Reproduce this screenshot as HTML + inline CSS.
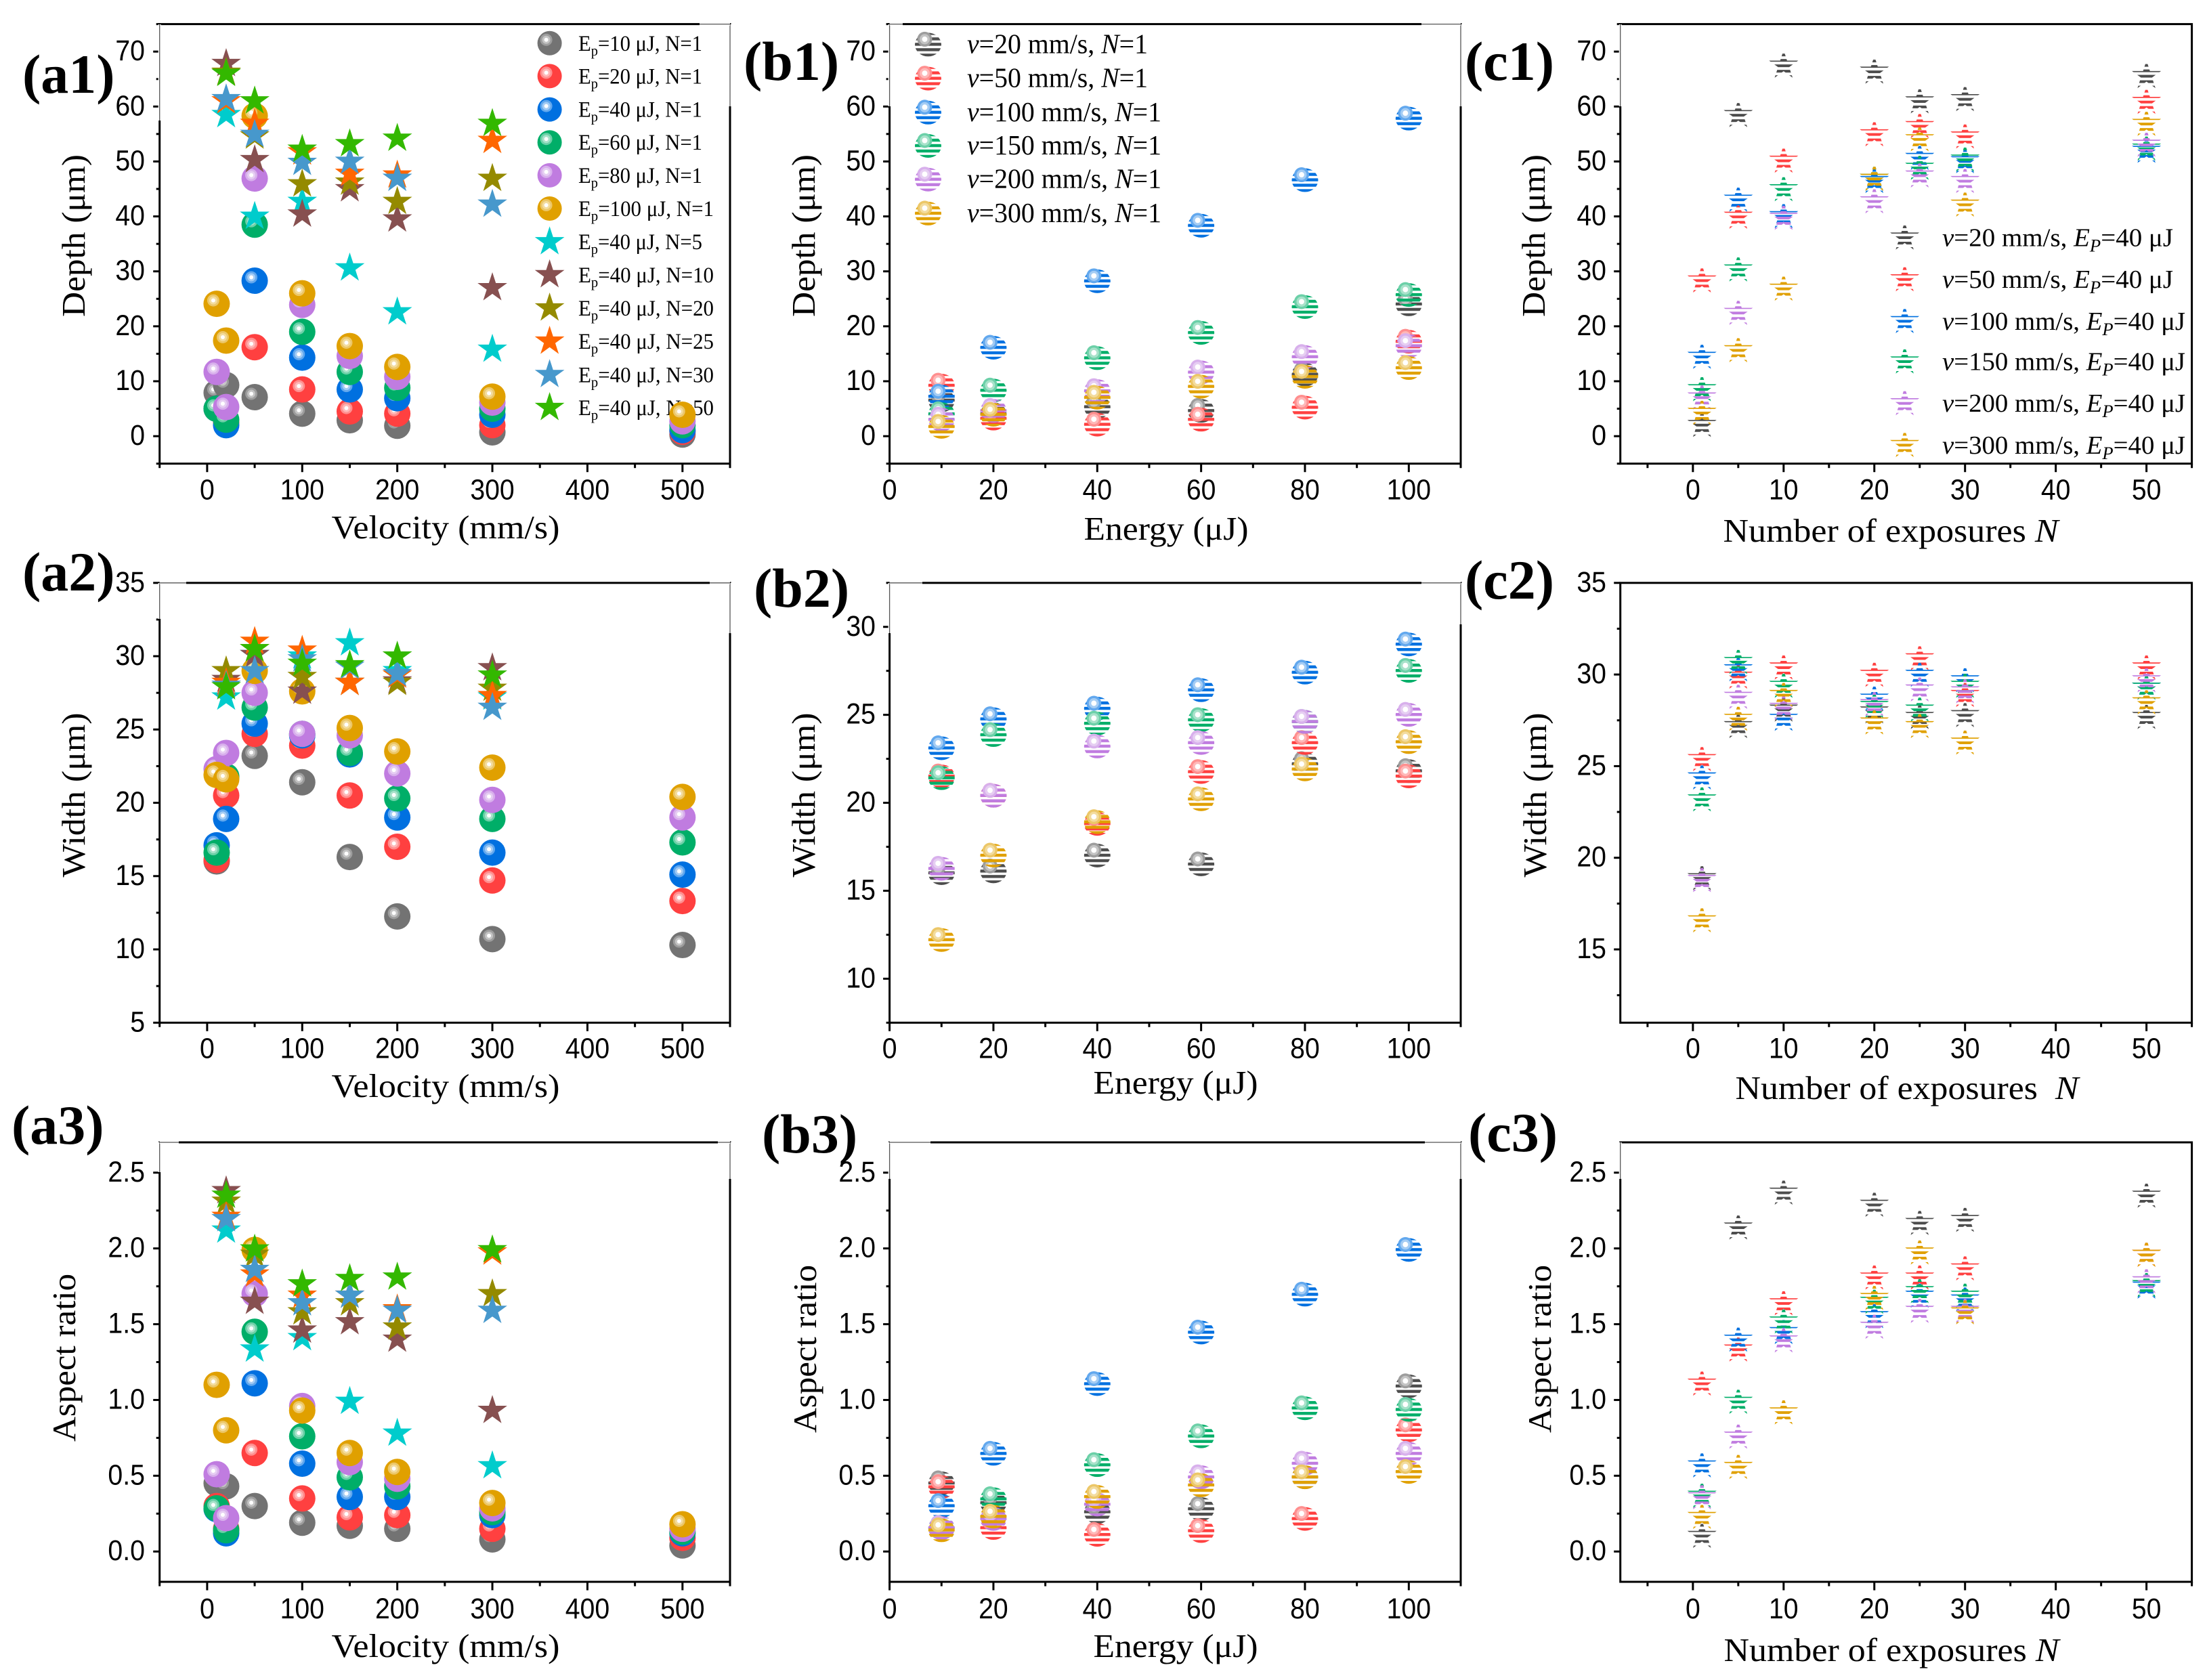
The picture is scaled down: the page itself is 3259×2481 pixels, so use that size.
<!DOCTYPE html>
<html lang="en">
<head>
<meta charset="utf-8">
<title>Depth, width and aspect ratio charts</title>
<style>
html,body{margin:0;padding:0;background:#fff;}
svg{display:block;}
.tick{font-family:"Liberation Sans",sans-serif;font-size:43px;fill:#000;}
.title{font-family:"Liberation Serif",serif;font-size:49px;fill:#000;text-anchor:middle;}
.panel{font-family:"Liberation Serif",serif;font-size:82px;font-weight:bold;fill:#000;}
.la{font-family:"Liberation Serif",serif;font-size:33px;fill:#000;}
.lb{font-family:"Liberation Serif",serif;font-size:41px;fill:#000;}
.lc{font-family:"Liberation Serif",serif;font-size:38px;fill:#000;}
.i{font-style:italic;}
</style>
</head>
<body>
<svg id="figure" xmlns="http://www.w3.org/2000/svg" width="3259" height="2481" viewBox="0 0 3259 2481">
<defs>
<pattern id="pb-gray" patternUnits="userSpaceOnUse" x="0" y="-2.7" width="8" height="8"><rect width="8" height="4.4" fill="#4d4d4d"/></pattern>
<pattern id="pb-red" patternUnits="userSpaceOnUse" x="0" y="-2.7" width="8" height="8"><rect width="8" height="4.4" fill="#ff4040"/></pattern>
<pattern id="pb-blue" patternUnits="userSpaceOnUse" x="0" y="-2.7" width="8" height="8"><rect width="8" height="4.4" fill="#0070e0"/></pattern>
<pattern id="pb-green" patternUnits="userSpaceOnUse" x="0" y="-2.7" width="8" height="8"><rect width="8" height="4.4" fill="#00ae68"/></pattern>
<pattern id="pb-purple" patternUnits="userSpaceOnUse" x="0" y="-2.7" width="8" height="8"><rect width="8" height="4.4" fill="#c07ce0"/></pattern>
<pattern id="pb-orange" patternUnits="userSpaceOnUse" x="0" y="-2.7" width="8" height="8"><rect width="8" height="4.4" fill="#e0a000"/></pattern>
<pattern id="ps-gray" patternUnits="userSpaceOnUse" x="0" y="-1.3" width="8" height="8"><rect width="8" height="4" fill="#4d4d4d"/></pattern>
<pattern id="ps-red" patternUnits="userSpaceOnUse" x="0" y="-1.3" width="8" height="8"><rect width="8" height="4" fill="#ff4040"/></pattern>
<pattern id="ps-blue" patternUnits="userSpaceOnUse" x="0" y="-1.3" width="8" height="8"><rect width="8" height="4" fill="#0070e0"/></pattern>
<pattern id="ps-green" patternUnits="userSpaceOnUse" x="0" y="-1.3" width="8" height="8"><rect width="8" height="4" fill="#00ae68"/></pattern>
<pattern id="ps-purple" patternUnits="userSpaceOnUse" x="0" y="-1.3" width="8" height="8"><rect width="8" height="4" fill="#c07ce0"/></pattern>
<pattern id="ps-orange" patternUnits="userSpaceOnUse" x="0" y="-1.3" width="8" height="8"><rect width="8" height="4" fill="#e0a000"/></pattern>
<clipPath id="star-tip-clip"><rect x="-30" y="-20.5" width="60" height="50"/></clipPath>
</defs>
<rect width="3259" height="2481" fill="#fff"/>

<g>
<text class="panel" x="33" y="137">(a1)</text>
<text class="panel" x="1098" y="118">(b1)</text>
<text class="panel" x="2163" y="118">(c1)</text>
<text class="panel" x="33" y="872">(a2)</text>
<text class="panel" x="1113" y="896">(b2)</text>
<text class="panel" x="2163" y="884">(c2)</text>
<text class="panel" x="17" y="1689">(a3)</text>
<text class="panel" x="1125" y="1702">(b3)</text>
<text class="panel" x="2168" y="1700">(c3)</text>
</g>

<g>
<text class="title" transform="translate(125,348) rotate(-90)" textLength="240" lengthAdjust="spacingAndGlyphs">Depth (μm)</text>
<text class="title" x="658" y="795" textLength="337" lengthAdjust="spacingAndGlyphs">Velocity (mm/s)</text>
<text class="title" transform="translate(125,1174) rotate(-90)" textLength="243" lengthAdjust="spacingAndGlyphs">Width (μm)</text>
<text class="title" x="658" y="1620" textLength="337" lengthAdjust="spacingAndGlyphs">Velocity (mm/s)</text>
<text class="title" transform="translate(111,2005) rotate(-90)" textLength="248" lengthAdjust="spacingAndGlyphs">Aspect ratio</text>
<text class="title" x="658" y="2447" textLength="337" lengthAdjust="spacingAndGlyphs">Velocity (mm/s)</text>
<text class="title" transform="translate(1203,348) rotate(-90)" textLength="240" lengthAdjust="spacingAndGlyphs">Depth (μm)</text>
<text class="title" x="1722" y="797" textLength="243" lengthAdjust="spacingAndGlyphs">Energy (μJ)</text>
<text class="title" transform="translate(1203,1174) rotate(-90)" textLength="243" lengthAdjust="spacingAndGlyphs">Width (μm)</text>
<text class="title" x="1736" y="1615" textLength="243" lengthAdjust="spacingAndGlyphs">Energy (μJ)</text>
<text class="title" transform="translate(1205,1992) rotate(-90)" textLength="248" lengthAdjust="spacingAndGlyphs">Aspect ratio</text>
<text class="title" x="1736" y="2447" textLength="243" lengthAdjust="spacingAndGlyphs">Energy (μJ)</text>
<text class="title" transform="translate(2281,348) rotate(-90)" textLength="240" lengthAdjust="spacingAndGlyphs">Depth (μm)</text>
<text class="title" x="2792" y="800" textLength="495" lengthAdjust="spacingAndGlyphs">Number of exposures <tspan class="i">N</tspan></text>
<text class="title" transform="translate(2283,1174) rotate(-90)" textLength="243" lengthAdjust="spacingAndGlyphs">Width (μm)</text>
<text class="title" x="2816" y="1623" textLength="507" lengthAdjust="spacingAndGlyphs">Number of exposures&#160;&#160;<tspan class="i">N</tspan></text>
<text class="title" transform="translate(2290,1992) rotate(-90)" textLength="248" lengthAdjust="spacingAndGlyphs">Aspect ratio</text>
<text class="title" x="2793" y="2453" textLength="495" lengthAdjust="spacingAndGlyphs">Number of exposures <tspan class="i">N</tspan></text>
</g>

<g id="legend-a1">
<text class="la" x="854" y="75" textLength="183" lengthAdjust="spacingAndGlyphs">E<tspan dy="7" font-size="22">p</tspan><tspan dy="-7">=10 μJ, N=1</tspan></text>
<text class="la" x="854" y="123.4" textLength="183" lengthAdjust="spacingAndGlyphs">E<tspan dy="7" font-size="22">p</tspan><tspan dy="-7">=20 μJ, N=1</tspan></text>
<text class="la" x="854" y="172.6" textLength="183" lengthAdjust="spacingAndGlyphs">E<tspan dy="7" font-size="22">p</tspan><tspan dy="-7">=40 μJ, N=1</tspan></text>
<text class="la" x="854" y="221.2" textLength="183" lengthAdjust="spacingAndGlyphs">E<tspan dy="7" font-size="22">p</tspan><tspan dy="-7">=60 μJ, N=1</tspan></text>
<text class="la" x="854" y="269.9" textLength="183" lengthAdjust="spacingAndGlyphs">E<tspan dy="7" font-size="22">p</tspan><tspan dy="-7">=80 μJ, N=1</tspan></text>
<text class="la" x="854" y="319" textLength="200" lengthAdjust="spacingAndGlyphs">E<tspan dy="7" font-size="22">p</tspan><tspan dy="-7">=100 μJ, N=1</tspan></text>
<text class="la" x="854" y="368.2" textLength="183" lengthAdjust="spacingAndGlyphs">E<tspan dy="7" font-size="22">p</tspan><tspan dy="-7">=40 μJ, N=5</tspan></text>
<text class="la" x="854" y="416.9" textLength="200" lengthAdjust="spacingAndGlyphs">E<tspan dy="7" font-size="22">p</tspan><tspan dy="-7">=40 μJ, N=10</tspan></text>
<text class="la" x="854" y="466" textLength="200" lengthAdjust="spacingAndGlyphs">E<tspan dy="7" font-size="22">p</tspan><tspan dy="-7">=40 μJ, N=20</tspan></text>
<text class="la" x="854" y="515" textLength="200" lengthAdjust="spacingAndGlyphs">E<tspan dy="7" font-size="22">p</tspan><tspan dy="-7">=40 μJ, N=25</tspan></text>
<text class="la" x="854" y="564.3" textLength="200" lengthAdjust="spacingAndGlyphs">E<tspan dy="7" font-size="22">p</tspan><tspan dy="-7">=40 μJ, N=30</tspan></text>
<text class="la" x="854" y="613" textLength="200" lengthAdjust="spacingAndGlyphs">E<tspan dy="7" font-size="22">p</tspan><tspan dy="-7">=40 μJ, N=50</tspan></text>
</g>

<g id="legend-b1">
<text class="lb" x="1428" y="78.4" textLength="267" lengthAdjust="spacingAndGlyphs"><tspan class="i">v</tspan>=20 mm/s, <tspan class="i">N</tspan>=1</text>
<text class="lb" x="1428" y="128.6" textLength="267" lengthAdjust="spacingAndGlyphs"><tspan class="i">v</tspan>=50 mm/s, <tspan class="i">N</tspan>=1</text>
<text class="lb" x="1428" y="178.8" textLength="287" lengthAdjust="spacingAndGlyphs"><tspan class="i">v</tspan>=100 mm/s, <tspan class="i">N</tspan>=1</text>
<text class="lb" x="1428" y="228" textLength="287" lengthAdjust="spacingAndGlyphs"><tspan class="i">v</tspan>=150 mm/s, <tspan class="i">N</tspan>=1</text>
<text class="lb" x="1428" y="277.7" textLength="287" lengthAdjust="spacingAndGlyphs"><tspan class="i">v</tspan>=200 mm/s, <tspan class="i">N</tspan>=1</text>
<text class="lb" x="1428" y="327.9" textLength="287" lengthAdjust="spacingAndGlyphs"><tspan class="i">v</tspan>=300 mm/s, <tspan class="i">N</tspan>=1</text>
</g>

<g id="legend-c1">
<text class="lc" x="2868" y="363.5" textLength="341" lengthAdjust="spacingAndGlyphs"><tspan class="i">v</tspan>=20 mm/s, <tspan class="i">E</tspan><tspan class="i" dy="8" font-size="26">P</tspan><tspan dy="-8">=40 μJ</tspan></text>
<text class="lc" x="2868" y="425.2" textLength="341" lengthAdjust="spacingAndGlyphs"><tspan class="i">v</tspan>=50 mm/s, <tspan class="i">E</tspan><tspan class="i" dy="8" font-size="26">P</tspan><tspan dy="-8">=40 μJ</tspan></text>
<text class="lc" x="2868" y="486.9" textLength="359" lengthAdjust="spacingAndGlyphs"><tspan class="i">v</tspan>=100 mm/s, <tspan class="i">E</tspan><tspan class="i" dy="8" font-size="26">P</tspan><tspan dy="-8">=40 μJ</tspan></text>
<text class="lc" x="2868" y="546.5" textLength="359" lengthAdjust="spacingAndGlyphs"><tspan class="i">v</tspan>=150 mm/s, <tspan class="i">E</tspan><tspan class="i" dy="8" font-size="26">P</tspan><tspan dy="-8">=40 μJ</tspan></text>
<text class="lc" x="2868" y="608.2" textLength="359" lengthAdjust="spacingAndGlyphs"><tspan class="i">v</tspan>=200 mm/s, <tspan class="i">E</tspan><tspan class="i" dy="8" font-size="26">P</tspan><tspan dy="-8">=40 μJ</tspan></text>
<text class="lc" x="2868" y="669.9" textLength="359" lengthAdjust="spacingAndGlyphs"><tspan class="i">v</tspan>=300 mm/s, <tspan class="i">E</tspan><tspan class="i" dy="8" font-size="26">P</tspan><tspan dy="-8">=40 μJ</tspan></text>
</g>
<g id="charts"></g>
<g id="frame-edges"></g>
</svg>

<script>
// ---------- categories ----------
const velocitySphere = [10, 20, 50, 100, 150, 200, 300, 500];
const velocityStar = [20, 50, 100, 150, 200, 300];
const energyLevels = [10, 20, 40, 60, 80, 100];
const exposureCounts = [1, 5, 10, 20, 25, 30, 50];

// ---------- tick values ----------
const velocityMajor = [0, 100, 200, 300, 400, 500];
const velocityMinor = [-50, 50, 150, 250, 350, 450, 550];
const energyMajor = [0, 20, 40, 60, 80, 100];
const energyMinor = [10, 30, 50, 70, 90, 110];
const exposureMajor = [0, 10, 20, 30, 40, 50];
const exposureMinor = [-5, 5, 15, 25, 35, 45, 55];
const depthMajor = [0, 10, 20, 30, 40, 50, 60, 70];
const depthMinor = [-5, 5, 15, 25, 35, 45, 55, 65, 75];
const widthMajorA = [5, 10, 15, 20, 25, 30, 35];
const widthMinorA = [7.5, 12.5, 17.5, 22.5, 27.5, 32.5];
const widthMajorB = [10, 15, 20, 25, 30];
const widthMinorB = [7.5, 12.5, 17.5, 22.5, 27.5, 32.5];
const widthMajorC = [15, 20, 25, 30, 35];
const widthMinorC = [12.5, 17.5, 22.5, 27.5, 32.5];
const ratioMajor = [0, 0.5, 1, 1.5, 2, 2.5];
const ratioMinor = [0.25, 0.75, 1.25, 1.75, 2.25];
const ratioLabels = ['0.0', '0.5', '1.0', '1.5', '2.0', '2.5'];

// ---------- a1: depth vs velocity ----------
const a1Ep10 = [7.9, 9.3, 7.1, 4.1, 2.9, 1.9, 0.7, 0.3];
const a1Ep20 = [5, 2.5, 16.2, 8.5, 4.5, 4.1, 2, 0.8];
const a1Ep40 = [5, 2, 28.3, 14.3, 8.5, 6.9, 3.9, 1.1];
const a1Ep60 = [5, 3, 38.5, 19, 11.7, 8.8, 5, 2];
const a1Ep80 = [11.7, 5.3, 46.9, 23.9, 14.6, 10.8, 6.1, 2.7];
const a1Ep100 = [24.1, 17.4, 58.3, 26, 16.4, 12.6, 7.2, 3.9];
const a1N5 = [58.5, 40, 42.7, 30.6, 22.6, 15.8];
const a1N10 = [67.8, 50.3, 40.4, 45, 39.5, 27];
const a1N20 = [66.2, 54.6, 45.9, 46.2, 42.7, 46.9];
const a1N25 = [61, 56.9, 51.7, 47.8, 47.5, 53.8];
const a1N30 = [61.4, 54.9, 49.8, 50, 46.9, 42.2];
const a1N50 = [66, 61, 52.2, 53.2, 54.2, 56.9];

// ---------- a2: width vs velocity ----------
const a2Ep10 = [16, 21.7, 23.2, 21.4, 16.3, 12.25, 10.7, 10.3];
const a2Ep20 = [16.1, 20.5, 24.7, 23.9, 20.5, 17, 14.7, 13.3];
const a2Ep40 = [17.1, 18.9, 25.4, 24.6, 23.3, 19, 16.6, 15.1];
const a2Ep60 = [16.6, 21.8, 26.5, 24.7, 23.4, 20.3, 18.9, 17.3];
const a2Ep80 = [22.3, 23.4, 27.5, 24.7, 24.6, 22, 20.2, 19];
const a2Ep100 = [21.9, 21.6, 29, 27.6, 25.1, 23.5, 22.4, 20.4];
const a2N5 = [27.2, 30.1, 30, 30.9, 29, 27.2];
const a2N10 = [28.4, 30.1, 27.6, 28.2, 28.3, 29.2];
const a2N20 = [29, 30.5, 28.6, 28.2, 28.2, 27.8];
const a2N25 = [28.2, 31, 30.4, 28.2, 28.7, 27.3];
const a2N30 = [28, 29, 29.8, 29.3, 28.8, 26.5];
const a2N50 = [27.9, 30.5, 29.5, 29.4, 30, 28.7];

// ---------- a3: aspect ratio vs velocity ----------
const a3Ep10 = [0.45, 0.43, 0.3, 0.19, 0.17, 0.15, 0.08, 0.04];
const a3Ep20 = [0.3, 0.15, 0.65, 0.35, 0.225, 0.24, 0.15, 0.09];
const a3Ep40 = [0.28, 0.12, 1.11, 0.58, 0.36, 0.36, 0.24, 0.12];
const a3Ep60 = [0.285, 0.14, 1.45, 0.76, 0.49, 0.43, 0.26, 0.13];
const a3Ep80 = [0.51, 0.22, 1.7, 0.96, 0.59, 0.48, 0.285, 0.15];
const a3Ep100 = [1.1, 0.8, 1.99, 0.93, 0.65, 0.525, 0.32, 0.18];
const a3N5 = [2.12, 1.335, 1.41, 0.99, 0.78, 0.565];
const a3N10 = [2.38, 1.65, 1.46, 1.515, 1.4, 0.93];
const a3N20 = [2.31, 1.96, 1.58, 1.64, 1.48, 1.7];
const a3N25 = [2.21, 1.83, 1.69, 1.69, 1.6, 1.975];
const a3N30 = [2.195, 1.86, 1.64, 1.69, 1.59, 1.59];
const a3N50 = [2.35, 1.995, 1.765, 1.8, 1.81, 1.99];

// ---------- b1: depth vs energy ----------
const b1V20 = [6.5, 4, 5.3, 4.6, 11.2, 24];
const b1V50 = [9.2, 3.2, 2.1, 3, 5.2, 17.2];
const b1V100 = [7.2, 16.1, 28.2, 38.3, 46.6, 57.8];
const b1V150 = [4, 8.3, 14.2, 18.8, 23.5, 25.7];
const b1V200 = [3, 4.6, 8.2, 11.6, 14.4, 16.4];
const b1V300 = [1.7, 3.9, 7, 9, 10.8, 12.4];

// ---------- b2: width vs energy ----------
const b2V20 = [16, 16.1, 17, 16.5, 22.2, 21.8];
const b2V50 = [21.5, 20.4, 18.8, 21.75, 23.4, 21.5];
const b2V100 = [23.1, 24.75, 25.35, 26.4, 27.4, 29];
const b2V150 = [21.4, 23.85, 24.5, 24.7, 24.6, 27.5];
const b2V200 = [16.25, 20.4, 23.2, 23.4, 24.6, 25];
const b2V300 = [12.2, 17, 18.9, 20.2, 21.9, 23.45];

// ---------- b3: aspect ratio vs energy ----------
const b3V20 = [0.45, 0.32, 0.26, 0.28, 0.49, 1.09];
const b3V50 = [0.425, 0.155, 0.11, 0.135, 0.215, 0.8];
const b3V100 = [0.3, 0.645, 1.105, 1.445, 1.695, 1.99];
const b3V150 = [0.155, 0.345, 0.57, 0.76, 0.945, 0.935];
const b3V200 = [0.155, 0.215, 0.31, 0.49, 0.58, 0.645];
const b3V300 = [0.14, 0.23, 0.36, 0.437, 0.49, 0.525];

// ---------- c1: depth vs exposures ----------
const c1V20 = [2.1, 58.5, 67.5, 66.4, 61, 61.4, 65.6];
const c1V50 = [28.4, 40, 50.2, 55, 56.5, 54.6, 60.9];
const c1V100 = [14.5, 43.1, 40.1, 46.5, 50.7, 50.1, 52];
const c1V150 = [8.6, 30.4, 45, 46.9, 48.9, 50.4, 52.4];
const c1V200 = [7.1, 22.5, 39.8, 42.8, 47.5, 46.5, 53.1];
const c1V300 = [4.3, 15.7, 26.9, 46.9, 54.1, 42.2, 56.9];

// ---------- c2: width vs exposures ----------
const c2V20 = [18.9, 27.2, 28.1, 28, 27.7, 27.8, 27.7];
const c2V50 = [25.4, 29.9, 30.4, 30, 30.9, 28.9, 30.4];
const c2V100 = [24.4, 30.3, 27.6, 28.7, 30, 29.7, 29.3];
const c2V150 = [23.2, 30.7, 29.4, 28.3, 28.1, 29.4, 29.3];
const c2V200 = [18.8, 28.8, 28.2, 28.4, 29.2, 29.1, 29.7];
const c2V300 = [16.6, 27.6, 28.9, 27.4, 27.2, 26.3, 28.5];

// ---------- c3: aspect ratio vs exposures ----------
const c3V20 = [0.105, 2.14, 2.37, 2.29, 2.17, 2.19, 2.35];
const c3V50 = [1.11, 1.335, 1.64, 1.81, 1.81, 1.87, 1.96];
const c3V100 = [0.57, 1.4, 1.45, 1.555, 1.69, 1.665, 1.75];
const c3V150 = [0.37, 0.99, 1.52, 1.65, 1.72, 1.69, 1.76];
const c3V200 = [0.36, 0.76, 1.395, 1.485, 1.59, 1.59, 1.785];
const c3V300 = [0.23, 0.56, 0.92, 1.675, 1.975, 1.58, 1.96];

// ---------- series styling ----------
const sphereColors = ['#737373', '#ff4040', '#0070e0', '#00ae68', '#c07ce0', '#e0a000'];
const starColors = ['#00cccc', '#875050', '#948a00', '#ff6600', '#4798cc', '#33b800'];
const patternKeys = ['gray', 'red', 'blue', 'green', 'purple', 'orange'];
const ringColors = ['#9d9d9d', '#ff8f8f', '#62a8ee', '#6cd0a8', '#d8b0ec', '#ecc768'];
const midColors = ['#c4c4c4', '#ffb8b8', '#a4ccf4', '#a8e2ca', '#e6cef2', '#f3dc9e'];

const NS = 'http://www.w3.org/2000/svg';
const charts = document.getElementById('charts');

function mk(tag, attrs, parent) {
  const el = document.createElementNS(NS, tag);
  for (const k in attrs) el.setAttribute(k, attrs[k]);
  parent.appendChild(el);
  return el;
}
function linear(d0, d1, r0, r1) {
  return function (v) { return r0 + (v - d0) * (r1 - r0) / (d1 - d0); };
}
function starPath(r) {
  const pts = [];
  for (let i = 0; i < 10; i++) {
    const rad = i % 2 === 0 ? r : r * 0.382;
    const a = -Math.PI / 2 + i * Math.PI / 5;
    pts.push((rad * Math.cos(a)).toFixed(2) + ',' + (rad * Math.sin(a)).toFixed(2));
  }
  return pts.join(' ');
}
function tickWidth(label) {
  let w = 0;
  for (const ch of label) w += ch === '.' ? 11 : 21.8;
  return w;
}
const STAR22 = starPath(22.6);
const STARFILL = starPath(23);

function drawSphere(parent, x, y, idx, r, name) {
  const g = mk('g', { transform: 'translate(' + x + ',' + y + ')' }, parent);
  
  
  mk('circle', { r: r, fill: sphereColors[idx] }, g);
  mk('circle', { cx: -5, cy: -5, r: 9, fill: ringColors[idx] }, g);
  mk('circle', { cx: -5, cy: -5, r: 6, fill: midColors[idx] }, g);
  mk('circle', { cx: -5, cy: -5, r: 3, fill: '#fff' }, g);
}
function drawSolidStar(parent, x, y, idx, name) {
  const el = mk('polygon', { transform: 'translate(' + x + ',' + y + ')', points: STARFILL, fill: starColors[idx] }, parent);
  
  
}
function drawStripedBall(parent, x, y, idx, name) {
  const g = mk('g', { transform: 'translate(' + x + ',' + y + ')' }, parent);
  
  
  mk('ellipse', { rx: 19.5, ry: 17.5, fill: 'url(#pb-' + patternKeys[idx] + ')' }, g);
  mk('circle', { cx: -5, cy: -8, r: 11, fill: ringColors[idx] }, g);
  mk('circle', { cx: -5, cy: -8, r: 7.5, fill: midColors[idx] }, g);
  mk('circle', { cx: -5, cy: -8, r: 4, fill: '#fff' }, g);
}
function drawStripedStar(parent, x, y, idx, name) {
  const el = mk('polygon', { transform: 'translate(' + x + ',' + y + ')', points: STAR22, fill: 'url(#ps-' + patternKeys[idx] + ')', 'clip-path': 'url(#star-tip-clip)' }, parent);
  
  
}

const sphereNames = ['ep10', 'ep20', 'ep40', 'ep60', 'ep80', 'ep100'];
const starNames = ['n5', 'n10', 'n20', 'n25', 'n30', 'n50'];
const speedNames = ['v20', 'v50', 'v100', 'v150', 'v200', 'v300'];

const panels = [
  { id: 'a1', kind: 'a', l: 235.7, r: 1078, t: 35.6, b: 684.7, xd: [-50, 550], yd: [-5, 75], xMaj: velocityMajor, xMin: velocityMinor, yMaj: depthMajor, yMin: depthMinor, yFmt: null, xLab: 737.4, yLab: 214,
    spheres: [a1Ep10, a1Ep20, a1Ep40, a1Ep60, a1Ep80, a1Ep100], stars: [a1N5, a1N10, a1N20, a1N25, a1N30, a1N50] },
  { id: 'a2', kind: 'a', l: 235.7, r: 1078, t: 860.8, b: 1510.3, xd: [-50, 550], yd: [5, 35], xMaj: velocityMajor, xMin: velocityMinor, yMaj: widthMajorA, yMin: widthMinorA, yFmt: null, xLab: 1562.6, yLab: 214,
    spheres: [a2Ep10, a2Ep20, a2Ep40, a2Ep60, a2Ep80, a2Ep100], stars: [a2N5, a2N10, a2N20, a2N25, a2N30, a2N50] },
  { id: 'a3', kind: 'a', l: 235.7, r: 1078, t: 1687, b: 2336, xd: [-50, 550], yd: [-0.2, 2.7], xMaj: velocityMajor, xMin: velocityMinor, yMaj: ratioMajor, yMin: ratioMinor, yFmt: ratioLabels, xLab: 2390, yLab: 214,
    spheres: [a3Ep10, a3Ep20, a3Ep40, a3Ep60, a3Ep80, a3Ep100], stars: [a3N5, a3N10, a3N20, a3N25, a3N30, a3N50] },
  { id: 'b1', kind: 'b', l: 1313.6, r: 2157, t: 35.6, b: 684.7, xd: [0, 110], yd: [-5, 75], xMaj: energyMajor, xMin: energyMinor, yMaj: depthMajor, yMin: depthMinor, yFmt: null, xLab: 737.4, yLab: 1293,
    series: [b1V20, b1V50, b1V100, b1V150, b1V200, b1V300] },
  { id: 'b2', kind: 'b', l: 1313.6, r: 2157, t: 860.8, b: 1510.3, xd: [0, 110], yd: [7.5, 32.5], xMaj: energyMajor, xMin: energyMinor, yMaj: widthMajorB, yMin: widthMinorB, yFmt: null, xLab: 1562.6, yLab: 1293,
    series: [b2V20, b2V50, b2V100, b2V150, b2V200, b2V300] },
  { id: 'b3', kind: 'b', l: 1313.6, r: 2157, t: 1687, b: 2336, xd: [0, 110], yd: [-0.2, 2.7], xMaj: energyMajor, xMin: energyMinor, yMaj: ratioMajor, yMin: ratioMinor, yFmt: ratioLabels, xLab: 2390, yLab: 1293,
    series: [b3V20, b3V50, b3V100, b3V150, b3V200, b3V300] },
  { id: 'c1', kind: 'c', l: 2392.7, r: 3236.6, t: 35.6, b: 684.7, xd: [-8, 55], yd: [-5, 75], xMaj: exposureMajor, xMin: exposureMinor, yMaj: depthMajor, yMin: depthMinor, yFmt: null, xLab: 737.4, yLab: 2372,
    series: [c1V20, c1V50, c1V100, c1V150, c1V200, c1V300] },
  { id: 'c2', kind: 'c', l: 2392.7, r: 3236.6, t: 860.8, b: 1510.3, xd: [-8, 55], yd: [11, 35], xMaj: exposureMajor, xMin: exposureMinor, yMaj: widthMajorC, yMin: widthMinorC, yFmt: null, xLab: 1562.6, yLab: 2372,
    series: [c2V20, c2V50, c2V100, c2V150, c2V200, c2V300] },
  { id: 'c3', kind: 'c', l: 2392.7, r: 3236.6, t: 1687, b: 2336, xd: [-8, 55], yd: [-0.2, 2.7], xMaj: exposureMajor, xMin: exposureMinor, yMaj: ratioMajor, yMin: ratioMinor, yFmt: ratioLabels, xLab: 2390, yLab: 2372,
    series: [c3V20, c3V50, c3V100, c3V150, c3V200, c3V300] }
];

panels.forEach(function (p) {
  const X = linear(p.xd[0], p.xd[1], p.l, p.r);
  const Y = linear(p.yd[0], p.yd[1], p.b, p.t);

  const axes = mk('g', {}, charts);
  
  

  const frame = mk('rect', { x: p.l, y: p.t, width: p.r - p.l, height: p.b - p.t, fill: 'none', stroke: '#000', 'stroke-width': 3 }, axes);
  
  

  p.xMaj.forEach(function (v) {
    const t = mk('line', { x1: X(v), x2: X(v), y1: p.b, y2: p.b + 12.5, stroke: '#000', 'stroke-width': 3 }, axes);
    
    
    const label = String(v);
    const lab = mk('text', { x: X(v), y: p.xLab, 'text-anchor': 'middle', class: 'tick', textLength: tickWidth(label), lengthAdjust: 'spacingAndGlyphs' }, axes);
    lab.textContent = label;
    
    
  });
  p.xMin.forEach(function (v) {
    const t = mk('line', { x1: X(v), x2: X(v), y1: p.b, y2: p.b + 6.5, stroke: '#000', 'stroke-width': 3 }, axes);
    
    
  });
  p.yMaj.forEach(function (v, i) {
    const t = mk('line', { x1: p.l - 9.5, x2: p.l, y1: Y(v), y2: Y(v), stroke: '#000', 'stroke-width': 3 }, axes);
    
    
    const label = p.yFmt ? p.yFmt[i] : String(v);
    const lab = mk('text', { x: p.yLab, y: Y(v) + 13, 'text-anchor': 'end', class: 'tick', textLength: tickWidth(label), lengthAdjust: 'spacingAndGlyphs' }, axes);
    lab.textContent = label;
    
    
  });
  p.yMin.forEach(function (v) {
    const t = mk('line', { x1: p.l - 5, x2: p.l, y1: Y(v), y2: Y(v), stroke: '#000', 'stroke-width': 3 }, axes);
    
    
  });

  const marks = mk('g', {}, charts);
  
  

  if (p.kind === 'a') {
    p.spheres.forEach(function (vals, s) {
      vals.forEach(function (v, i) {
        drawSphere(marks, X(velocitySphere[i]), Y(v), s, 19.5, p.id + '-point-' + sphereNames[s]);
      });
    });
    p.stars.forEach(function (vals, s) {
      vals.forEach(function (v, i) {
        drawSolidStar(marks, X(velocityStar[i]), Y(v), s, p.id + '-point-' + starNames[s]);
      });
    });
  } else if (p.kind === 'b') {
    p.series.forEach(function (vals, s) {
      vals.forEach(function (v, i) {
        drawStripedBall(marks, X(energyLevels[i]), Y(v), s, p.id + '-point-' + speedNames[s]);
      });
    });
  } else {
    p.series.forEach(function (vals, s) {
      vals.forEach(function (v, i) {
        drawStripedStar(marks, X(exposureCounts[i]), Y(v), s, p.id + '-point-' + speedNames[s]);
      });
    });
  }
});

// ---------- legend symbols ----------
const legA = document.getElementById('legend-a1');
const legB = document.getElementById('legend-b1');
const legC = document.getElementById('legend-c1');
const legendRowsA = [63.8, 112.4, 161.6, 210.2, 258.9, 308, 357.2, 405.9, 455, 504, 553.3, 602];
const legendRowsB = [65.9, 116.1, 166.3, 215.5, 265.2, 315.4];
const legendRowsC = [350.3, 412, 473.7, 533.3, 595, 656.7];
legendRowsA.forEach(function (y, i) {
  if (i < 6) drawSphere(legA, 811.6, y, i, 18, 'legend-symbol-' + sphereNames[i]);
  else drawSolidStar(legA, 811.6, y, i - 6, 'legend-symbol-' + starNames[i - 6]);
});
legendRowsB.forEach(function (y, i) {
  drawStripedBall(legB, 1370.5, y, i, 'legend-symbol-' + speedNames[i]);
});
legendRowsC.forEach(function (y, i) {
  drawStripedStar(legC, 2812.6, y, i, 'legend-symbol-c-' + speedNames[i]);
});

// ---------- thin stretches of the plot frames seen in the reference ----------
const edges = document.getElementById('frame-edges');
const thinVertical = [
  [1078, 36, 157], [235.7, 36, 178], [2157, 36, 157], [1313.6, 36, 157], [2392.7, 36, 157],
  [1078, 861, 935], [235.7, 861, 914], [2157, 861, 922], [1313.6, 861, 935],
  [1078, 1687, 1741], [235.7, 1687, 1731], [2157, 1687, 1741], [1313.6, 1687, 1741], [2392.7, 1687, 1741]
];
const thinHorizontal = [
  [35.6, 1033, 1078], [35.6, 1313.6, 1333], [35.6, 2099, 2157],
  [860.8, 235.7, 275], [860.8, 1048, 1078], [860.8, 1313.6, 1362], [860.8, 2099, 2157],
  [1687, 235.7, 264], [1687, 1060, 1078], [1687, 1313.6, 1374], [1687, 2104, 2157]
];
thinVertical.forEach(function (s) {
  const w = mk('line', { x1: s[0], x2: s[0], y1: s[1], y2: s[2], stroke: '#fff', 'stroke-width': 4 }, edges);
  
  
  const d = mk('line', { x1: s[0], x2: s[0], y1: s[1], y2: s[2], stroke: '#555', 'stroke-width': 1.3 }, edges);
  
  
});
thinHorizontal.forEach(function (s) {
  const w = mk('line', { x1: s[1], x2: s[2], y1: s[0], y2: s[0], stroke: '#fff', 'stroke-width': 4 }, edges);
  
  
  const d = mk('line', { x1: s[1], x2: s[2], y1: s[0], y2: s[0], stroke: '#555', 'stroke-width': 1.3 }, edges);
  
  
});
</script>
</body>
</html>
